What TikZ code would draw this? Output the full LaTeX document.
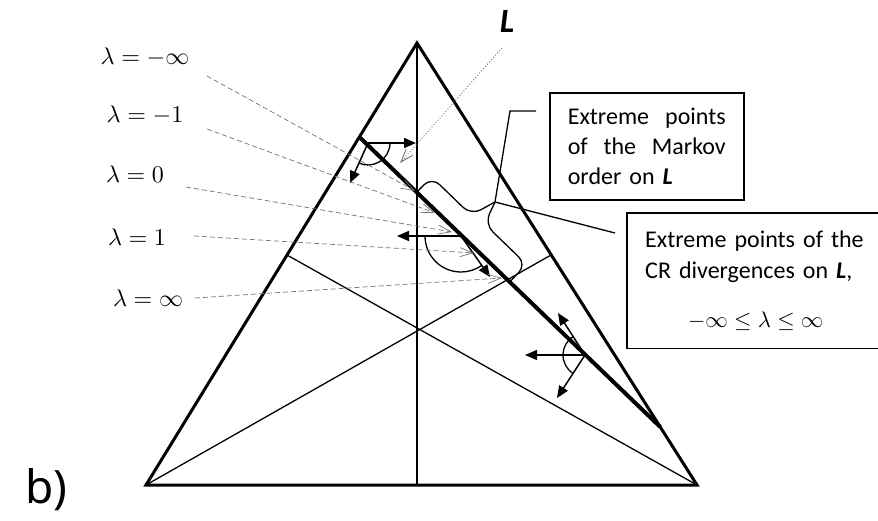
\RequirePackage{fix-cm}
\documentclass[tikz,border=0pt]{standalone}
\usepackage{graphicx}
\usepackage{fontspec}
\setmainfont{Carlito}
\newfontfamily\bfont{Noto Sans}
\usetikzlibrary{arrows.meta,calc}
\newcommand{\bigmath}[2]{{\fontsize{10}{12}\selectfont\scalebox{#1}{$#2$}}}
\begin{document}
\begin{tikzpicture}[x=1pt,y=-1pt,
  side/.style={line width=3pt, line join=miter},
  thinline/.style={line width=1.3pt},
  lline/.style={line width=4pt},
  lead/.style={black!55, line width=0.7pt, dash pattern=on 5pt off 3pt, -{Straight Barb[length=13pt,width=9pt]}},
  dotlead/.style={black!55, line width=0.9pt, dash pattern=on 1pt off 2pt, -{Straight Barb[length=13pt,width=9pt]}},
  arr/.style={line width=1.5pt, -{Triangle[length=12pt,width=10pt]}},
  boxline/.style={line width=1.6pt},
  lam/.style={inner sep=0pt},
  txt/.style={font=\fontsize{24}{30}\selectfont}
]
\useasboundingbox (0,0) rectangle (878,520);

% triangle
\coordinate (A) at (417,43);
\coordinate (B) at (146,485);
\coordinate (C) at (697,485);
\coordinate (MB) at (417,485);
\coordinate (ML) at (287,255);
\coordinate (MR) at (551,255);
\draw[thinline] (A) -- (MB);
\draw[thinline] (B) -- (MR);
\draw[thinline] (C) -- (ML);
\draw[side] (A) -- (B) -- (C) -- cycle;

% line L
\coordinate (L1) at ($(A)!0.2127!(B)$);
\coordinate (L2) at ($(A)!0.8688!(C)$);
\draw[lline] (L1) -- (L2);

% arrows at the top
\coordinate (O1) at (368,143);
\coordinate (T1a) at (416,143);
\coordinate (T1b) at (350,183);
\draw[arr] (O1) -- (T1a);
\draw[arr] (O1) -- (T1b);
\draw[thinline] ($(O1)+(22,0)$) arc[start angle=0, end angle=114, radius=22];

% arrows in the middle
\coordinate (O2) at (461,236);
\coordinate (T2a) at (397,236);
\coordinate (T2b) at (490,277);
\draw[arr] (O2) -- (T2a);
\draw[arr] (O2) -- (T2b);
\draw[thinline] ($(O2)+(-36,0)$) arc[start angle=180, end angle=55, radius=36];

% arrows at the bottom
\coordinate (O3) at (585,355);
\coordinate (T3a) at (525,355);
\coordinate (T3b) at (558,313);
\coordinate (T3c) at (557,398);
\draw[arr] (O3) -- (T3a);
\draw[arr] (O3) -- (T3b);
\draw[arr] (O3) -- (T3c);
\draw[thinline] ($(O3)+(123:22)$) arc[start angle=123, end angle=237, radius=22];

% brace
\coordinate (p0) at (417,192);
\coordinate (p1) at (431.6,176.9);
\coordinate (p2) at (471.1,215.1);
\coordinate (tip) at (495,202);
\coordinate (p4) at (484.7,224.0);
\coordinate (p5) at (526.5,264.4);
\coordinate (p6) at (509.8,281.7);
\draw[thinline, rounded corners=11pt] (p0) -- (p1) -- (p2) -- (tip);
\draw[thinline, rounded corners=11pt] (tip) -- (p4) -- (p5) -- (p6);

% boxes
\node[draw, boxline, anchor=north west, text width=158pt, inner xsep=18pt,
      minimum height=107pt, align=left, txt] (mk) at (549,92)
  {Extreme\hfill points\\ of\hfill the\hfill Markov\\ order on \textbf{\textit{L}}};
\node[anchor=north west, text width=230pt, inner xsep=18pt, inner ysep=0pt,
      minimum height=135pt, align=left, font=\fontsize{24}{31}\selectfont] (cr) at (627,213)
  {Extreme points of the\\ CR divergences on \textbf{\textit{L}},\\[18pt]
   \makebox[221pt]{\bigmath{2.25}{-\infty\le\lambda\le\infty}}};
\draw[boxline] ($(cr.north west)+(252,0)$) -- (cr.north west) -- (cr.south west) -- ++(252,0);

% connectors from brace
\coordinate (mk1) at (510,111);
\coordinate (mk2) at (536,111);
\coordinate (cr1) at (615,233);
\draw[thinline] (tip) -- (mk1) -- (mk2);
\draw[thinline] (tip) -- (cr1);

% lambda labels and leaders
\node[lam] (l1) at (145,57) {\bigmath{2.4}{\lambda=-\infty}};
\node[lam] (l2) at (145,115) {\bigmath{2.4}{\lambda=-1}};
\node[lam] (l3) at (135,174) {\bigmath{2.4}{\lambda=0}};
\node[lam] (l4) at (137,237) {\bigmath{2.4}{\lambda=1}};
\node[lam] (l5) at (148,298) {\bigmath{2.4}{\lambda=\infty}};
\coordinate (s1) at (207,76);
\coordinate (s2) at (207,129);
\coordinate (s3) at (186,187);
\coordinate (s4) at (194,236);
\coordinate (s5) at (195,298);
\coordinate (e1) at (415,191);
\coordinate (e2) at (435,213);
\coordinate (e3) at (452,232);
\coordinate (e4) at (474,253);
\coordinate (e5) at (502,278);
\draw[lead] (s1) -- (e1);
\draw[lead] (s2) -- (e2);
\draw[lead] (s3) -- (e3);
\draw[lead] (s4) -- (e4);
\draw[lead] (s5) -- (e5);

% label L
\node[font=\fontsize{34}{34}\selectfont\bfseries\itshape, inner sep=0pt] (Llab) at (507,21) {L};
\coordinate (ls) at (502,48);
\coordinate (le) at (400,163);
\draw[dotlead] (ls) -- (le);

% b)
\node[font=\bfont\fontsize{46}{46}\selectfont, anchor=base west, inner sep=0pt] (blab) at (25,503) {b)};
\end{tikzpicture}
\end{document}
